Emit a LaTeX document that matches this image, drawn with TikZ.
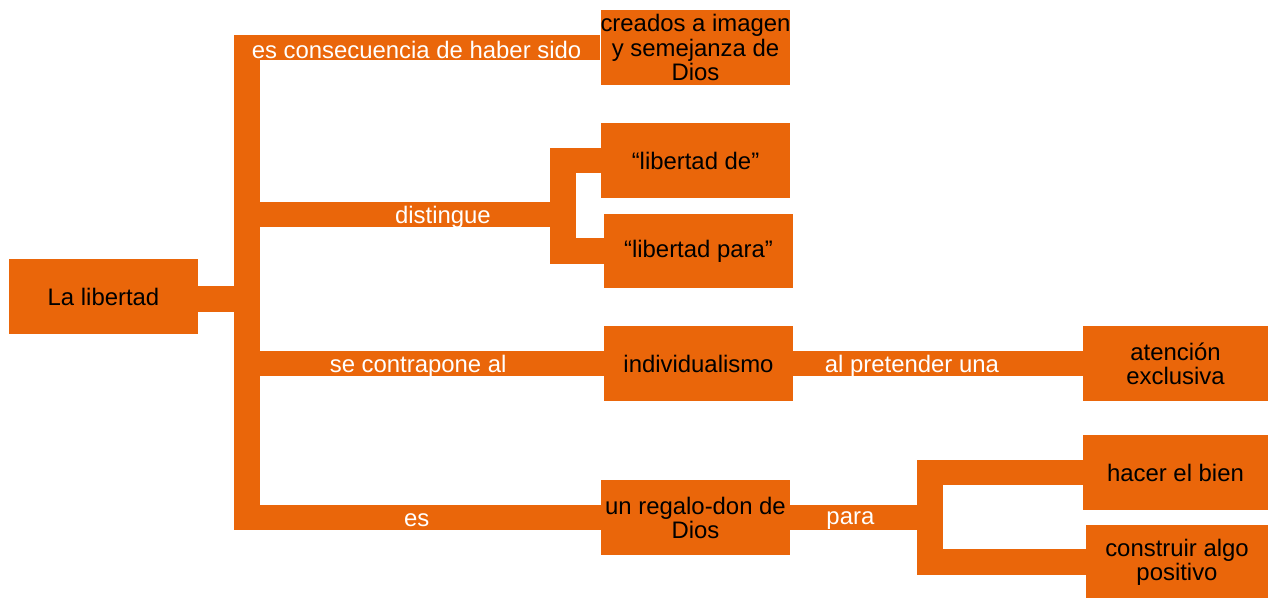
\documentclass[tikz,border=0pt]{standalone}
\usepackage{fontspec}
\setmainfont{Liberation Sans}
\usetikzlibrary{positioning,calc}
\definecolor{naranja}{RGB}{234,102,10}
\tikzset{concepto/.style={rectangle,fill=naranja,minimum width=3.78cm,minimum height=1.5cm,inner sep=0pt,align=center,font=\fontsize{13.6}{13.7}\selectfont},
  enlace/.style={draw=naranja,line width=0.52cm,line join=miter},
  etiqueta/.style={text=white,inner sep=1pt,yshift=-1.6pt,font=\fontsize{13.6}{13.7}\selectfont}}

\begin{document}
\begin{tikzpicture}[x=0.02cm,y=-0.02cm]
\useasboundingbox (0,0) rectangle (1269,598);

\node[concepto] (lib) at (103.5,296.5) {La libertad};
\node[concepto] (cre) at (695.5,47.5) {creados a imagen\\y semejanza de\\Dios};
\node[concepto] (lde) at (695.5,160.5) {“libertad de”};
\node[concepto] (lpa) at (698.5,251) {“libertad para”};
\node[concepto] (ind) at (698.5,363.5) {individualismo};
\node[concepto,minimum width=3.7cm] (ate) at (1175.5,363.5) {atención\\exclusiva};
\node[concepto] (reg) at (695.5,517.5) {un regalo-don de\\Dios};
\node[concepto,minimum width=3.7cm] (hac) at (1175.5,472.5) {hacer el bien};
\node[concepto,minimum width=3.64cm] (con) at (1177,562) {construir algo\\positivo};

\coordinate (tronco) at (247,299);
\coordinate (dis) at (563,214.5);
\coordinate (par) at (930,517.5);

\draw[enlace] (lib.east |- tronco) -- (tronco);
\draw[enlace] (tronco) |- node[etiqueta,pos=0.74] {es consecuencia de haber sido} (cre.west);
\draw[enlace] (tronco) |- node[etiqueta,pos=0.81] {distingue} (dis);
\draw[enlace] (tronco) |- node[etiqueta,pos=0.74] {se contrapone al} (ind.west);
\draw[enlace] (tronco) |- node[etiqueta,pos=0.74] {es} (reg.west);

\draw[enlace] (dis) |- (lde.west);
\draw[enlace] (dis) |- (lpa.west);

\draw[enlace] (ind) -- node[etiqueta,pos=0.41] {al pretender una} (ate);
\draw[enlace] (reg) -- node[etiqueta,pos=0.43] {para} (par);
\draw[enlace] (par) |- (hac.west);
\draw[enlace] (par) |- (con.west);

\end{tikzpicture}
\end{document}
